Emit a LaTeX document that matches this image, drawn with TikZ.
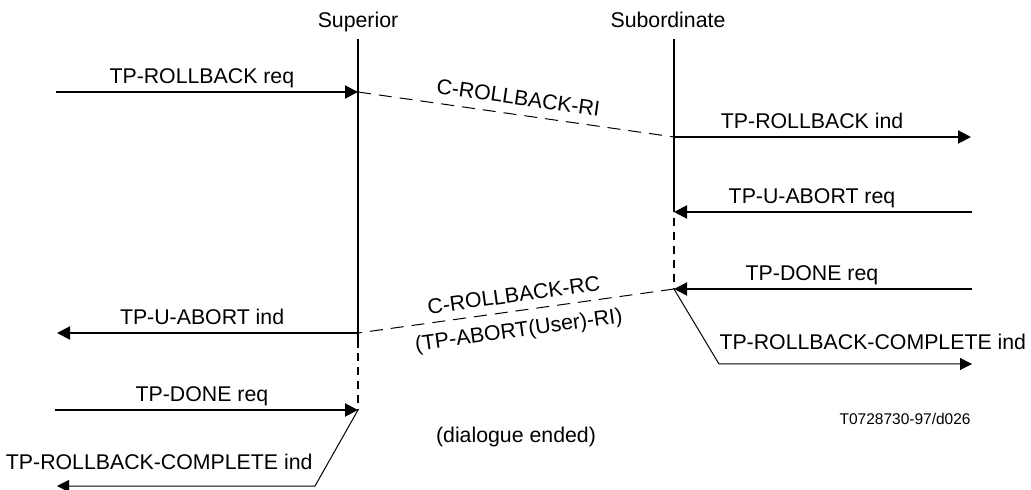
\documentclass[tikz,border=0pt]{standalone}
\usepackage{fontspec}
\setmainfont{Liberation Sans}
\usetikzlibrary{arrows.meta,
  calc,
  positioning
}
\tikzstyle{msg} = [line width=1pt, -{Triangle[length=6.5pt,width=6.5pt]}]
\tikzstyle{thinmsg} = [line width=0.5pt, -{Triangle[length=6pt,width=6pt]}]
\tikzstyle{pdu} = [line width=0.5pt, dash pattern=on 6.5pt off 4pt]
\tikzstyle{lifeline} = [line width=1pt]
\tikzstyle{lifedash} = [line width=1pt, dash pattern=on 4pt off 3pt]
\tikzstyle{lbl} = [font=\fontsize{10.65}{12}\selectfont, inner sep=1.5pt,
  text height=7.7pt, text depth=2.2pt]

\begin{document}
\begin{tikzpicture}[x=0.5pt, y=-0.5pt]
  \useasboundingbox (0, 0) rectangle (1031, 490);

  % entities
  \node[lbl, anchor=base, inner sep=0pt] (sup) at (358, 28) {Superior};
  \node[lbl, anchor=base, inner sep=0pt] (sub) at (668, 28) {Subordinate};

  \coordinate (supTop) at (358, 39);
  \coordinate (supEnd) at (358, 348);
  \coordinate (supDash) at (358, 353);
  \coordinate (subTop) at (674, 39);
  \coordinate (subEnd) at (674, 212);
  \coordinate (subDash) at (674, 218);

  % message end points
  \coordinate (inA) at (56, 92);    \coordinate (supA) at (358, 92);
  \coordinate (subB) at (674, 137); \coordinate (outB) at (971, 137);
  \coordinate (inC) at (972, 212);
  \coordinate (inD) at (972, 289);  \coordinate (subD) at (674, 289);
  \coordinate (kinkE) at (719, 364); \coordinate (outE) at (972, 364);
  \coordinate (supF) at (358, 333); \coordinate (outF) at (57, 333);
  \coordinate (inG) at (55, 410);   \coordinate (supG) at (358, 410);
  \coordinate (kinkH) at (315, 486); \coordinate (outH) at (57, 486);

  \draw[lifeline] (supTop) -- (supEnd);
  \draw[lifedash] (supDash) -- (supG);
  \draw[lifeline] (subTop) -- (subEnd);
  \draw[lifedash] (subDash) -- (subD);

  \draw[msg] (inA) -- node[lbl, above, pos=0.483] {TP-ROLLBACK req} (supA);
  \draw[pdu] (supA) -- node[lbl, above, sloped, inner sep=2.5pt] {C-ROLLBACK-RI} (subB);
  \draw[msg] (subB) -- node[lbl, above, pos=0.465] {TP-ROLLBACK ind} (outB);

  \draw[msg] (inC) -- node[lbl, above, pos=0.537] {TP-U-ABORT req} (subEnd);
  \draw[msg] (inD) -- node[lbl, above, pos=0.537] {TP-DONE req} (subD);
  \draw[thinmsg] (subD) -- (kinkE)
    node[lbl, anchor=south west, inner xsep=0pt, inner ysep=5pt] {TP-ROLLBACK-COMPLETE ind} -- (outE);

  \draw[pdu] (subD) -- node[lbl, above, sloped, inner sep=2pt] {C-ROLLBACK-RC}
    node[lbl, below, sloped, inner sep=5pt] {(TP-ABORT(User)-RI)} (supF);
  \draw[msg] (supF) -- node[lbl, above, pos=0.518] {TP-U-ABORT ind} (outF);

  \draw[msg] (inG) -- node[lbl, above, pos=0.485] {TP-DONE req} (supG);
  \draw[thinmsg] (supG) -- (kinkH)
    node[lbl, anchor=south east, inner xsep=1pt, inner ysep=6pt] {TP-ROLLBACK-COMPLETE ind} -- (outH);

  \node[lbl, anchor=base, inner sep=0pt] (ended) at (516, 443) {(dialogue ended)};
  \node[anchor=base east, inner sep=0pt, font=\fontsize{7.75}{9}\selectfont] (ref) at (971, 425) {T0728730-97/d026};
\end{tikzpicture}
\end{document}
